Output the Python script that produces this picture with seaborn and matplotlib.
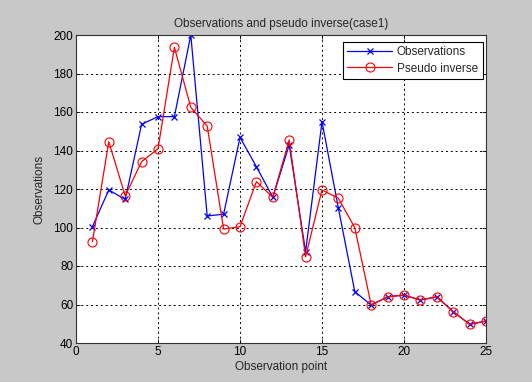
import matplotlib
matplotlib.use("Agg")
import matplotlib.pyplot as plt
import seaborn as sns
import pandas as pd

x_points = list(range(1, 26))
observations = [100.4, 119.5, 114.6, 153.6, 157.6, 157.6, 200.0, 106.0, 106.9, 146.8,
                131.6, 115.7, 142.9, 87.4, 155.0, 110.0, 66.7, 59.7, 64.0, 64.9,
                62.3, 64.0, 56.3, 49.7, 51.4]
pseudo_inverse = [92.6, 144.6, 116.4, 134.2, 140.9, 193.6, 162.4, 152.7, 99.2, 100.4,
                  123.8, 115.7, 145.5, 84.8, 119.5, 115.2, 99.9, 59.7, 64.0, 64.9,
                  62.3, 64.0, 56.3, 49.7, 51.4]
x_ticks = [0, 5, 10, 15, 20, 25]
y_ticks = [40, 60, 80, 100, 120, 140, 160, 180, 200]

sns.set_style("white")
plt.rcParams['font.family'] = ['Liberation Sans', 'DejaVu Sans']

fig = plt.figure(figsize=(5.32, 3.82), dpi=100)
fig.patch.set_facecolor('#c8c8c8')
ax = fig.add_axes([76/532, 1-343/382, (486-76)/532, (343-35)/382])
ax.set_facecolor('white')

df = pd.DataFrame({'x': x_points, 'obs': observations, 'pinv': pseudo_inverse})
sns.lineplot(data=df, x='x', y='obs', ax=ax, color='#0000ff', marker='x',
             markersize=4.5, markeredgecolor='#0000ff', markeredgewidth=0.9,
             linewidth=0.9, label='Observations')
sns.lineplot(data=df, x='x', y='pinv', ax=ax, color='#ff0000', marker='o',
             markersize=6.5, markerfacecolor='none', markeredgecolor='#ff0000',
             markeredgewidth=0.8, linewidth=0.9, label='Pseudo inverse')

ax.set_xlim(0, 25)
ax.set_ylim(40, 200)
ax.set_xticks(x_ticks)
ax.set_yticks(y_ticks)
ax.grid(True, color='black', linestyle=(0, (2, 3)), linewidth=0.7)
ax.tick_params(direction='in', length=3, width=0.6, labelsize=8.5, colors='black',
               top=True, right=True, bottom=True, left=True, pad=2)
for s in ax.spines.values():
    s.set_color('#333333')
    s.set_linewidth(0.8)

ax.set_title('Observations and pseudo inverse(case1)', fontsize=8.5, pad=6)
ax.set_xlabel('Observation point', fontsize=8.5, labelpad=2)
ax.set_ylabel('Observations', fontsize=8.5, labelpad=6)

leg = ax.legend(loc='upper right', fontsize=8.5, frameon=True, fancybox=False,
                edgecolor='black', framealpha=1, borderpad=0.4, labelspacing=0.35,
                handlelength=3.8, handletextpad=0.4, bbox_to_anchor=(0.992, 0.978),
                borderaxespad=0)
leg.get_frame().set_linewidth(0.8)

fig.savefig('out.png', dpi=100, facecolor=fig.get_facecolor())
